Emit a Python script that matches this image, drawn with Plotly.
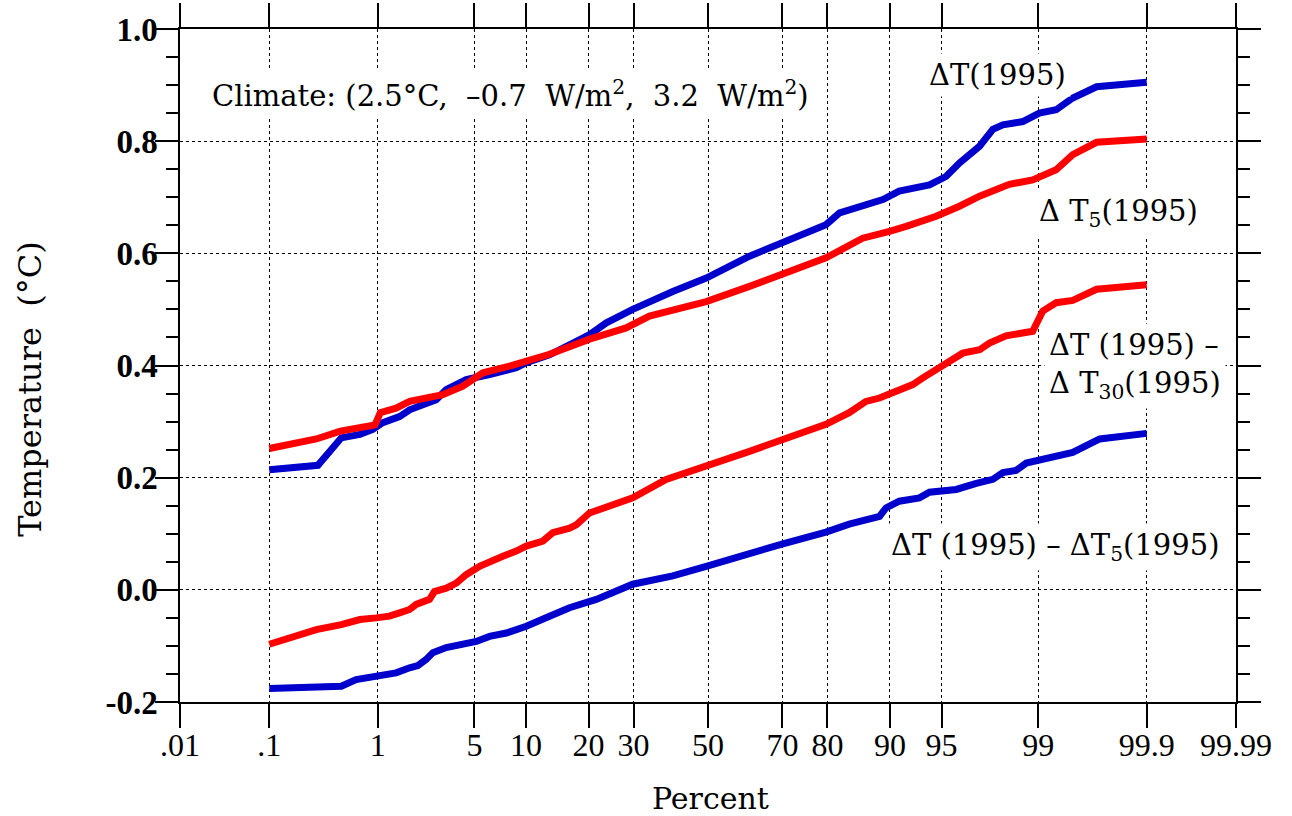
from statistics import NormalDist
import plotly.graph_objects as go

# Cumulative distributions (percent of runs vs temperature, deg C)
pct_dt = [0.1, 0.30, 0.49, 0.71, 0.91, 1.10, 1.49, 1.78, 2.23, 2.49, 2.78, 3.26, 4.43, 6.19,
          8.84, 10.03, 13.22, 16.47, 20.2, 23.7, 29.8, 40.2, 49.5, 61.5, 70.1, 79.7, 82.3,
          89.1, 91.1, 94.06, 95.32, 96.17, 97.21, 97.76, 98.11, 98.67, 99.02, 99.29, 99.49,
          99.69, 99.9]
val_dt = [0.214, 0.222, 0.271, 0.277, 0.286, 0.298, 0.309, 0.321, 0.330, 0.333, 0.339, 0.357,
          0.375, 0.384, 0.396, 0.405, 0.419, 0.437, 0.455, 0.476, 0.500, 0.532, 0.556, 0.595,
          0.619, 0.651, 0.672, 0.696, 0.711, 0.722, 0.737, 0.761, 0.791, 0.821, 0.829, 0.835,
          0.850, 0.856, 0.877, 0.897, 0.905]

pct_dt5 = [0.1, 0.29, 0.48, 0.86, 0.95, 1.05, 1.40, 1.78, 2.49, 3.09, 4.21, 5.64, 8.11, 10.03,
           13.22, 20.2, 28.2, 34.0, 49.5, 61.5, 70.1, 79.7, 86.2, 88.65, 89.94, 91.86, 94.6,
           96.17, 97.21, 98.31, 98.89, 99.29, 99.49, 99.69, 99.9]
val_dt5 = [0.252, 0.269, 0.283, 0.292, 0.294, 0.316, 0.324, 0.336, 0.342, 0.348, 0.363, 0.387,
           0.399, 0.407, 0.420, 0.447, 0.467, 0.488, 0.514, 0.541, 0.562, 0.592, 0.627, 0.633,
           0.639, 0.648, 0.666, 0.684, 0.702, 0.723, 0.731, 0.749, 0.776, 0.798, 0.804]

pct_d30 = [0.1, 0.29, 0.49, 0.71, 0.97, 1.24, 1.49, 1.78, 1.99, 2.49, 2.70, 3.26, 3.81, 4.43,
           5.38, 6.19, 7.42, 8.84, 10.03, 12.24, 13.72, 16.47, 17.67, 20.2, 29.8, 38.4, 49.5,
           61.5, 70.1, 79.7, 84.0, 86.7, 88.65, 89.94, 92.54, 93.49, 94.85, 96.36, 97.21,
           97.63, 98.21, 98.89, 99.08, 99.29, 99.49, 99.69, 99.9]
val_d30 = [-0.097, -0.071, -0.062, -0.053, -0.050, -0.047, -0.041, -0.035, -0.026, -0.017,
           -0.003, 0.003, 0.012, 0.027, 0.042, 0.051, 0.060, 0.069, 0.078, 0.087, 0.102, 0.110,
           0.116, 0.137, 0.164, 0.197, 0.220, 0.247, 0.268, 0.295, 0.316, 0.336, 0.342, 0.350,
           0.366, 0.378, 0.396, 0.422, 0.428, 0.440, 0.453, 0.461, 0.497, 0.512, 0.516, 0.536,
           0.544]

pct_d5 = [0.1, 0.29, 0.49, 0.66, 0.97, 1.40, 1.78, 2.05, 2.36, 2.63, 3.26, 4.01, 5.13, 6.19,
          7.77, 10.03, 11.77, 13.22, 16.47, 21.56, 29.8, 40.2, 49.5, 61.5, 70.1, 79.7, 84.0,
          88.65, 89.5, 91.1, 93.18, 94.06, 95.98, 97.06, 97.76, 98.11, 98.5, 98.75, 99.02,
          99.49, 99.71, 99.9]
val_d5 = [-0.176, -0.175, -0.172, -0.160, -0.153, -0.148, -0.139, -0.135, -0.124, -0.112,
          -0.103, -0.099, -0.092, -0.083, -0.077, -0.065, -0.053, -0.047, -0.032, -0.017,
          0.010, 0.025, 0.042, 0.066, 0.082, 0.103, 0.117, 0.131, 0.146, 0.158, 0.164, 0.174,
          0.179, 0.190, 0.197, 0.209, 0.213, 0.226, 0.232, 0.245, 0.269, 0.279]

tick_pct = [0.01, 0.1, 1, 5, 10, 20, 30, 50, 70, 80, 90, 95, 99, 99.9, 99.99]
tick_txt = [".01", ".1", "1", "5", "10", "20", "30", "50", "70", "80", "90", "95", "99",
            "99.9", "99.99"]
ytick_vals = [-0.2, 0.0, 0.2, 0.4, 0.6, 0.8, 1.0]
ytick_txt = ["-0.2", "0.0", "0.2", "0.4", "0.6", "0.8", "1.0"]

BLUE = "rgb(0,0,205)"
RED = "rgb(255,0,0)"
FONT = "DejaVu Serif"
TICK_FONT = "Liberation Serif"

nd = NormalDist()


def probit(values):
    return [nd.inv_cdf(p / 100.0) for p in values]


fig = go.Figure()
for pct, val, col in [(pct_dt, val_dt, BLUE), (pct_dt5, val_dt5, RED),
                      (pct_d30, val_d30, RED), (pct_d5, val_d5, BLUE)]:
    fig.add_trace(go.Scatter(x=probit(pct), y=val, mode="lines",
                             line=dict(color=col, width=7), showlegend=False,
                             hoverinfo="skip"))

xlim = probit([0.01, 99.99])

fig.update_xaxes(
    range=xlim, tickmode="array", tickvals=probit(tick_pct), ticktext=tick_txt,
    showline=True, linecolor="black", linewidth=1.5, mirror="allticks",
    ticks="outside", ticklen=24, tickwidth=1.5, tickcolor="black",
    showgrid=True, gridcolor="black", griddash="dot", gridwidth=1,
    zeroline=False, automargin=False, ticklabelstandoff=-10,
    tickfont=dict(family=TICK_FONT, size=32, color="black"),
)
fig.update_yaxes(
    range=[-0.2, 1.0], tickmode="array", tickvals=ytick_vals, ticktext=ytick_txt,
    showline=True, linecolor="black", linewidth=1.5, mirror="allticks",
    ticks="outside", ticklen=23, tickwidth=1.5, tickcolor="black",
    minor=dict(dtick=0.05, ticks="outside", ticklen=12, tickwidth=1.5,
               tickcolor="black", showgrid=False),
    showgrid=True, gridcolor="black", griddash="dot", gridwidth=1,
    zeroline=False, automargin=False, ticklabelstandoff=-9,
    tickfont=dict(family=TICK_FONT, size=33, color="black", weight="bold"),
)

ann_font = dict(family=FONT, size=29, color="black")
annotations = [
    dict(x=0.313, y=0.903, text="Climate: (2.5°C,  –0.7  W/m<sup>2</sup>,  3.2  W/m<sup>2</sup>)",
         xanchor="center", yanchor="middle"),
    dict(x=0.774, y=0.931, text="ΔT(1995)", xanchor="center", yanchor="middle"),
    dict(x=0.889, y=0.727, text="Δ T<sub>5</sub>(1995)", xanchor="center", yanchor="middle"),
    dict(x=0.818, y=0.50, text="ΔT (1995) –<br>Δ T<sub>30</sub>(1995)", xanchor="left",
         yanchor="middle", align="left"),
    dict(x=0.8286, y=0.23, text="ΔT (1995) – ΔT<sub>5</sub>(1995)", xanchor="center",
         yanchor="middle"),
]
for a in annotations:
    fig.add_annotation(xref="paper", yref="paper", showarrow=False, font=ann_font,
                       bgcolor="white", borderpad=4, **a)

fig.add_annotation(xref="paper", yref="paper", x=0.502, y=-0.143, text="Percent",
                   showarrow=False, xanchor="center", yanchor="middle",
                   font=dict(family=FONT, size=30, color="black"))
fig.add_annotation(xref="paper", yref="paper", x=-0.142, y=0.464,
                   text="Temperature\u00a0\u00a0(°C)", textangle=-90, showarrow=False,
                   xanchor="center", yanchor="middle",
                   font=dict(family=FONT, size=32, color="black"))

fig.update_layout(
    width=1292, height=816, margin=dict(l=180, r=56, t=29, b=114, autoexpand=False),
    paper_bgcolor="white", plot_bgcolor="white",
)

fig.write_html("out.html")
